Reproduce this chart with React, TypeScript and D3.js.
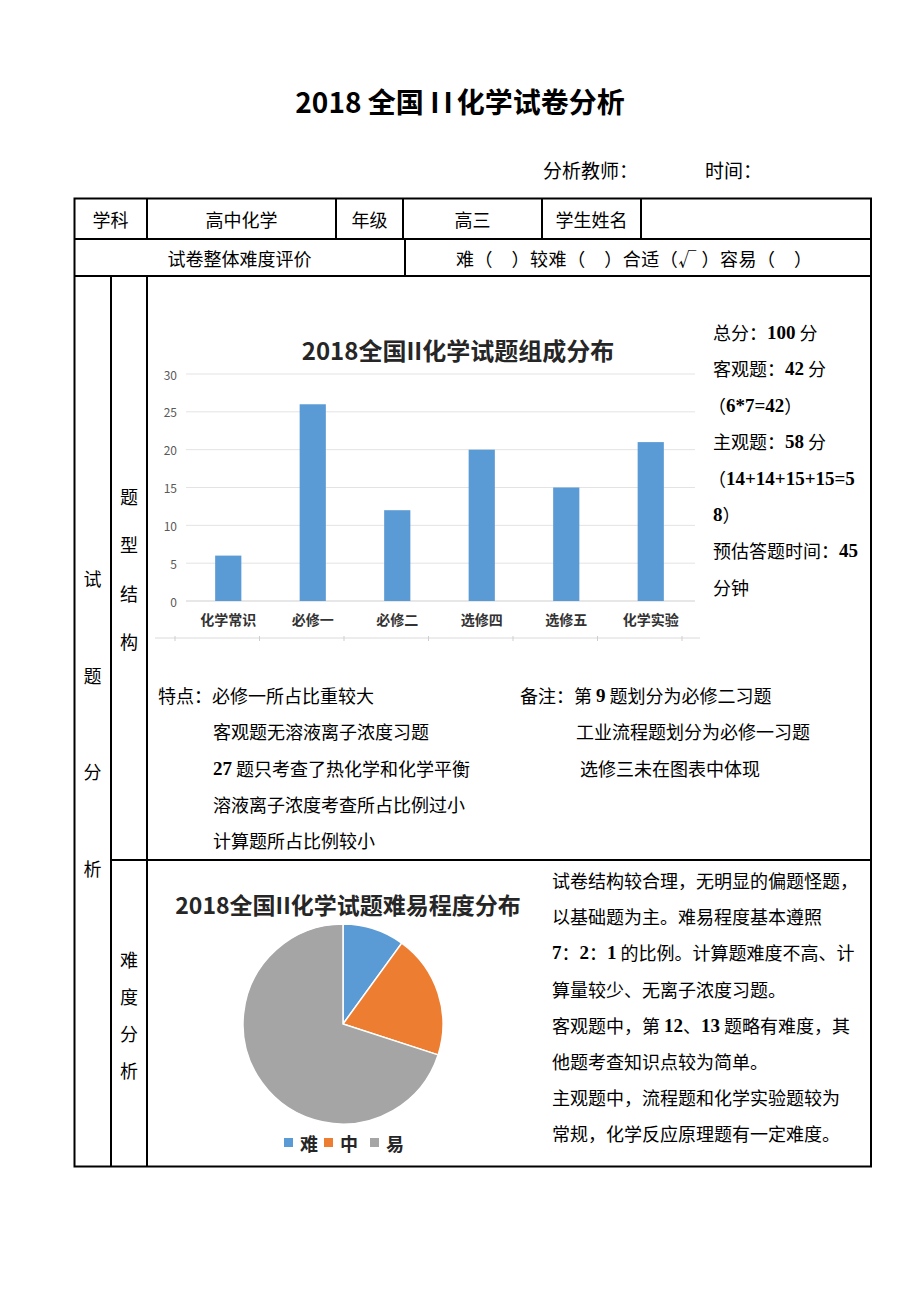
import React from "react";
import * as d3 from "d3";

const categories = ["化学常识", "必修一", "必修二", "选修四", "选修五", "化学实验"];
const values = [6, 26, 12, 20, 15, 21];
const yTicks = [0, 5, 10, 15, 20, 25, 30];

const pieLabels = ["难", "中", "易"];
const pieValues = [1, 2, 7];
const pieColors = ["#5B9BD5", "#ED7D31", "#A5A5A5"];

const infoLines = [
  "总分：100 分",
  "客观题：42 分",
  "（6*7=42）",
  "主观题：58 分",
  "（14+14+15+15=5",
  "8）",
  "预估答题时间：45",
  "分钟",
];

const featureLines = [
  "特点：必修一所占比重较大",
  "客观题无溶液离子浓度习题",
  "27 题只考查了热化学和化学平衡",
  "溶液离子浓度考查所占比例过小",
  "计算题所占比例较小",
];
const noteLines = [
  "备注：第 9 题划分为必修二习题",
  "工业流程题划分为必修一习题",
  "选修三未在图表中体现",
];
const diffLines = [
  "试卷结构较合理，无明显的偏题怪题，",
  "以基础题为主。难易程度基本遵照",
  "7：2：1 的比例。计算题难度不高、计",
  "算量较少、无离子浓度习题。",
  "客观题中，第 12、13 题略有难度，其",
  "他题考查知识点较为简单。",
  "主观题中，流程题和化学实验题较为",
  "常规，化学反应原理题有一定难度。",
];

const CJK = "'Noto Sans CJK SC', 'Noto Sans', sans-serif";
const SERIF = "'Liberation Serif', 'DejaVu Serif', serif";

function Mixed({ x, y, text, size = 18 }: { x: number; y: number; text: string; size?: number }) {
  const parts = text.split(/([0-9*+=.]+)/).filter((p) => p.length > 0);
  return (
    <text x={x} y={y} fontSize={size} fontFamily={CJK} dominantBaseline="central" fill="#000" xmlSpace="preserve">
      {parts.map((p, i) =>
        /^[0-9*+=.]+$/.test(p) ? (
          <tspan key={i} fontFamily={SERIF} fontWeight="bold" fontSize={size + 1}>
            {p}
          </tspan>
        ) : (
          <tspan key={i}>{p}</tspan>
        )
      )}
    </text>
  );
}

export default function App() {
  // bar chart scales
  const x = d3.scaleBand<string>().domain(categories).range([186, 693]).paddingInner(0.69).paddingOuter(0.345);
  const y = d3.scaleLinear().domain([0, 30]).range([601, 374]);

  // pie
  const pieGen = d3.pie<number>().sort(null).value((d) => d);
  const arcs = pieGen(pieValues);
  const arcGen = d3.arc<d3.PieArcDatum<number>>().innerRadius(0).outerRadius(100);
  const cx = 343;
  const cy = 1024;

  const lineStyle = { stroke: "#000", strokeWidth: 2 };

  const bottomTicks = d3.range(7).map((i) => 175 + i * x.step());

  return (
    <svg width={920} height={1303} style={{ position: "absolute", left: 0, top: 0, background: "#fff" }}>
      <rect x={0} y={0} width={920} height={1303} fill="#fff" />
      {/* page title */}
      <text x={460} y={101} textAnchor="middle" dominantBaseline="central" fontSize={28} fontWeight="bold" fontFamily={CJK} xmlSpace="preserve">
        2018 全国 <tspan letterSpacing={4}>II</tspan>化学试卷分析
      </text>
      <text x={543} y={169} dominantBaseline="central" fontSize={19} fontFamily={CJK}>分析教师：</text>
      <text x={705} y={169} dominantBaseline="central" fontSize={19} fontFamily={CJK}>时间：</text>

      {/* table lines */}
      <rect x={74.5} y={198.5} width={796.5} height={968} fill="none" {...lineStyle} />
      <line x1={74.5} x2={871} y1={239} y2={239} {...lineStyle} />
      <line x1={74.5} x2={871} y1={276} y2={276} {...lineStyle} />
      <line x1={111} x2={871} y1={860} y2={860} {...lineStyle} />
      {[147, 336, 403, 542, 641].map((v) => (
        <line key={v} x1={v} x2={v} y1={198.5} y2={239} {...lineStyle} />
      ))}
      <line x1={405} x2={405} y1={239} y2={276} {...lineStyle} />
      <line x1={111} x2={111} y1={276} y2={1166.5} {...lineStyle} />
      <line x1={147} x2={147} y1={276} y2={1166.5} {...lineStyle} />

      {/* table header text */}
      {[
        ["学科", 110.5],
        ["高中化学", 241.5],
        ["年级", 369.5],
        ["高三", 472.5],
        ["学生姓名", 591.5],
      ].map(([t, cxv]) => (
        <text key={t as string} x={cxv as number} y={219} textAnchor="middle" dominantBaseline="central" fontSize={18} fontFamily={CJK}>
          {t}
        </text>
      ))}
      <text x={239.5} y={257.5} textAnchor="middle" dominantBaseline="central" fontSize={18} fontFamily={CJK}>
        试卷整体难度评价
      </text>
      <text x={456} y={257.5} dominantBaseline="central" fontSize={18} fontFamily={CJK} textLength={356} lengthAdjust="spacing">
        难（　）较难（　）合适（√ ）容易（　）
      </text>

      {/* side labels */}
      {["试", "题", "分", "析"].map((c, i) => (
        <text key={"s" + i} x={92.5} y={578 + i * 96.5} textAnchor="middle" dominantBaseline="central" fontSize={18} fontFamily={CJK}>
          {c}
        </text>
      ))}
      {["题", "型", "结", "构"].map((c, i) => (
        <text key={"t" + i} x={129} y={496 + i * 48.3} textAnchor="middle" dominantBaseline="central" fontSize={18} fontFamily={CJK}>
          {c}
        </text>
      ))}
      {["难", "度", "分", "析"].map((c, i) => (
        <text key={"d" + i} x={129} y={959 + i * 37} textAnchor="middle" dominantBaseline="central" fontSize={18} fontFamily={CJK}>
          {c}
        </text>
      ))}

      {/* bar chart */}
      <text x={458} y={349} textAnchor="middle" dominantBaseline="central" fontSize={24} fontWeight="bold" fontFamily={CJK} fill="#262626">
        2018全国II化学试题组成分布
      </text>
      {yTicks.map((t) => (
        <g key={t}>
          <line x1={186} x2={695} y1={y(t)} y2={y(t)} stroke={t === 0 ? "#cfcfcf" : "#e3e3e3"} strokeWidth={1} />
          <text x={177} y={y(t)} textAnchor="end" dominantBaseline="central" fontSize={12} fontFamily={CJK} fill="#595959">
            {t}
          </text>
        </g>
      ))}
      {categories.map((c, i) => (
        <rect key={c} x={x(c)} y={y(values[i])} width={x.bandwidth()} height={y(0) - y(values[i])} fill="#5B9BD5" />
      ))}
      {categories.map((c) => (
        <text key={"l" + c} x={(x(c) as number) + x.bandwidth() / 2} y={619} textAnchor="middle" dominantBaseline="central" fontSize={14} fontWeight="bold" fontFamily={CJK} fill="#333">
          {c}
        </text>
      ))}
      <line x1={155} x2={700} y1={638} y2={638} stroke="#dadada" strokeWidth={1} />
      {bottomTicks.map((t, i) => (
        <line key={"bt" + i} x1={t} x2={t} y1={636} y2={641} stroke="#cfcfcf" strokeWidth={1} />
      ))}

      {/* info text */}
      {infoLines.map((l, i) => (
        <Mixed key={"i" + i} x={i === 2 || i === 4 ? 708 : 713} y={332 + i * 36.4} text={l} />
      ))}
      {featureLines.map((l, i) => (
        <Mixed key={"f" + i} x={i === 0 ? 158 : 213} y={695 + i * 36.3} text={l} />
      ))}
      {noteLines.map((l, i) => (
        <Mixed key={"n" + i} x={i === 0 ? 520 : i === 1 ? 576 : 580} y={695 + i * 36.3} text={l} />
      ))}
      {diffLines.map((l, i) => (
        <Mixed key={"df" + i} x={552} y={880 + i * 36.2} text={l} />
      ))}

      {/* pie chart */}
      <text x={348} y={904} textAnchor="middle" dominantBaseline="central" fontSize={23} fontWeight="bold" fontFamily={CJK} fill="#262626">
        2018全国II化学试题难易程度分布
      </text>
      <g transform={`translate(${cx},${cy})`}>
        {arcs.map((a, i) => (
          <path key={i} d={arcGen(a) as string} fill={pieColors[i]} stroke="#fff" strokeWidth={1.5} />
        ))}
      </g>
      {pieLabels.map((l, i) => {
        const lx = [284, 324, 370][i];
        return (
          <g key={l}>
            <rect x={lx} y={1138} width={9} height={9} fill={pieColors[i]} />
            <text x={lx + 16} y={1143} dominantBaseline="central" fontSize={18} fontWeight="bold" fontFamily={CJK} fill="#262626">
              {l}
            </text>
          </g>
        );
      })}
    </svg>
  );
}
